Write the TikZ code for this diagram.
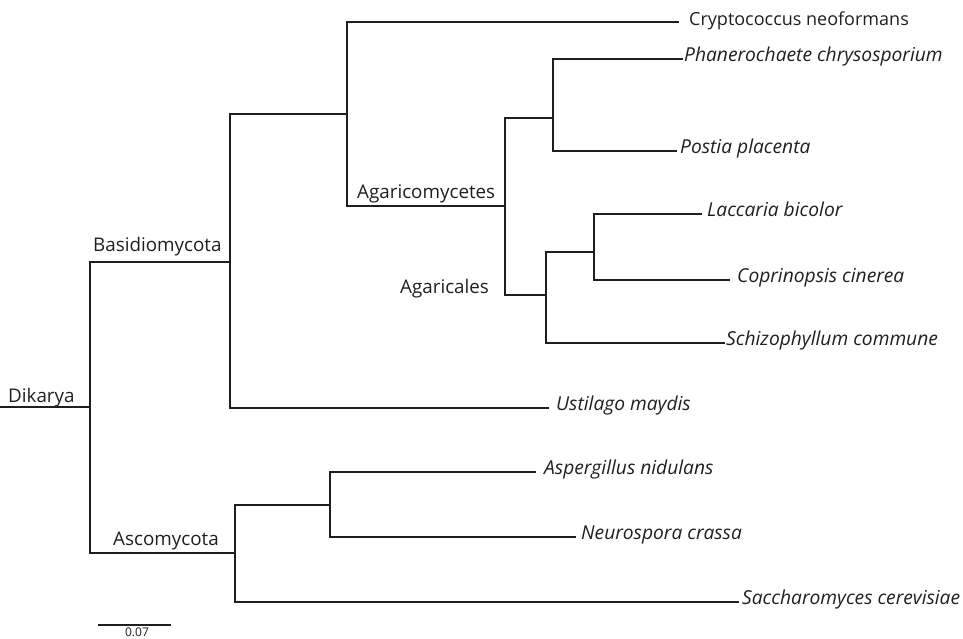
\documentclass[tikz,border=0pt]{standalone}
\usepackage{fontspec}
\setmainfont{Open Sans}
\begin{document}
\begin{tikzpicture}[x=1pt,y=-1pt,
  branch/.style={line width=2.1pt, draw=black!88, line join=miter},
  taxon/.style={anchor=west, inner sep=0pt, text height=0.7em, text depth=0.2em,
    font=\fontsize{19.2}{23}\selectfont\itshape, text=black!88},
  upright/.style={text height=1em, font=\fontsize{18}{21}\selectfont\upshape},
  clade/.style={anchor=base west, inner sep=0pt,
    font=\fontsize{18.8}{22}\selectfont, text=black!88},
  scalelabel/.style={anchor=north, inner sep=0pt,
    font=\fontsize{12}{14}\selectfont, text=black!88},
]
\useasboundingbox (0,0) rectangle (963,639);

% internal nodes (position of the branch entering each node)
\coordinate (stem) at (0,407);
\coordinate (dik)  at (90,407);
\coordinate (bas)  at (230,262);
\coordinate (cra)  at (347,114);
\coordinate (aga)  at (505,206);
\coordinate (php)  at (553,118);
\coordinate (agl)  at (546,295);
\coordinate (lcp)  at (594,252);
\coordinate (asc)  at (235,553);
\coordinate (anc)  at (330,505);

% branch tips
\coordinate (t-cry) at (679,22);
\coordinate (t-pha) at (683,59);
\coordinate (t-pos) at (677,151);
\coordinate (t-lac) at (702,214);
\coordinate (t-cop) at (730,280);
\coordinate (t-sch) at (725,343);
\coordinate (t-ust) at (549,408);
\coordinate (t-asp) at (536,472);
\coordinate (t-neu) at (576,537);
\coordinate (t-sac) at (739,602);

% taxon names
\node[taxon,upright] (l-cry) at (689,22)  {Cryptococcus neoformans};
\node[taxon] (l-pha) at (684,59)  {Phanerochaete chrysosporium};
\node[taxon] (l-pos) at (680,151) {Postia placenta};
\node[taxon] (l-lac) at (707,214) {Laccaria bicolor};
\node[taxon] (l-cop) at (737,280) {Coprinopsis cinerea};
\node[taxon] (l-sch) at (726,343) {Schizophyllum commune};
\node[taxon] (l-ust) at (556,408) {Ustilago maydis};
\node[taxon] (l-asp) at (544,472) {Aspergillus nidulans};
\node[taxon] (l-neu) at (581,537) {Neurospora crassa};
\node[taxon] (l-sac) at (742,602) {Saccharomyces cerevisiae};

% clade names
\node[clade] (c-dik) at (8,402)   {Dikarya};
\node[clade] (c-bas) at (93,251)  {Basidiomycota};
\node[clade] (c-asc) at (113,545) {Ascomycota};
\node[clade] (c-aga) at (357,198) {Agaricomycetes};
\node[clade] (c-agl) at (400,293) {Agaricales};

% tree
\draw[branch] (stem) -- (dik);
\draw[branch] (dik) |- (bas);
\draw[branch] (dik) |- (asc);
\draw[branch] (bas) |- (cra);
\draw[branch] (bas) |- (t-ust);
\draw[branch] (cra) |- (t-cry);
\draw[branch] (cra) |- (aga);
\draw[branch] (aga) |- (php);
\draw[branch] (aga) |- (agl);
\draw[branch] (php) |- (t-pha);
\draw[branch] (php) |- (t-pos);
\draw[branch] (agl) |- (lcp);
\draw[branch] (agl) |- (t-sch);
\draw[branch] (lcp) |- (t-lac);
\draw[branch] (lcp) |- (t-cop);
\draw[branch] (asc) |- (anc);
\draw[branch] (asc) |- (t-sac);
\draw[branch] (anc) |- (t-asp);
\draw[branch] (anc) |- (t-neu);

% scale bar
\coordinate (sb-a) at (98,625);
\coordinate (sb-b) at (171,625);
\draw[branch] (sb-a) -- (sb-b);
\node[scalelabel] (sb) at (137,628) {0.07};
\end{tikzpicture}
\end{document}
